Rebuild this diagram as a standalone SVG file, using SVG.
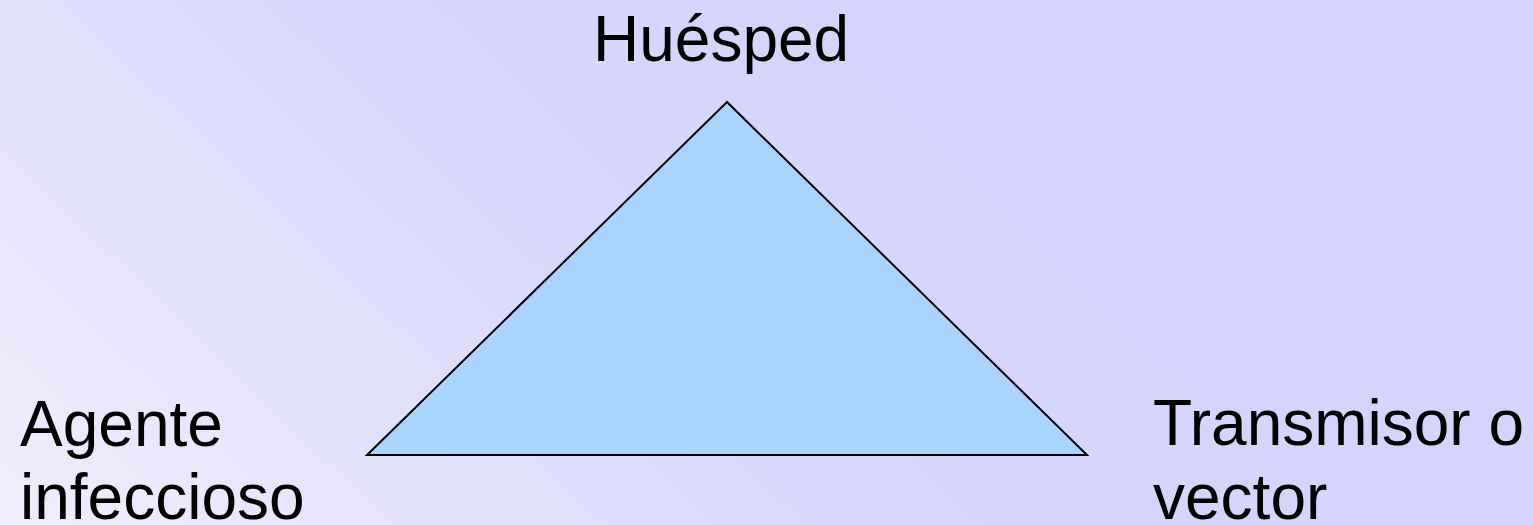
<svg xmlns="http://www.w3.org/2000/svg" width="1533" height="525" viewBox="0 0 1533 525">
  <defs>
    <linearGradient id="bg" gradientUnits="userSpaceOnUse" x1="0" y1="525" x2="700" y2="-200">
      <stop offset="0" stop-color="#F0EEFC"/>
      <stop offset="0.6" stop-color="#D8D8FC"/>
      <stop offset="1" stop-color="#D4D4FC"/>
    </linearGradient>
    <style>
      .lbl { font-family: "Liberation Sans", Arial, sans-serif; font-size: 64px; fill: #000000; }
      .tri { fill: #A8D4FE; stroke: #000000; stroke-width: 2; stroke-linejoin: miter; }
    </style>
  </defs>
  <rect x="0" y="0" width="1533" height="525" fill="url(#bg)"/>
  <g id="triangle">
    <polygon class="tri" points="727,102 367,455 1087,455"/>
  </g>
  <g id="connectors"></g>
  <g id="node-huesped">
    <text class="lbl" x="593" y="61">Huésped</text>
  </g>
  <g id="node-agente">
    <text class="lbl" x="20" y="446">Agente</text>
    <text class="lbl" x="20" y="519">infeccioso</text>
  </g>
  <g id="node-transmisor">
    <text class="lbl" x="1153" y="445">Transmisor o</text>
    <text class="lbl" x="1153" y="519">vector</text>
  </g>
</svg>
